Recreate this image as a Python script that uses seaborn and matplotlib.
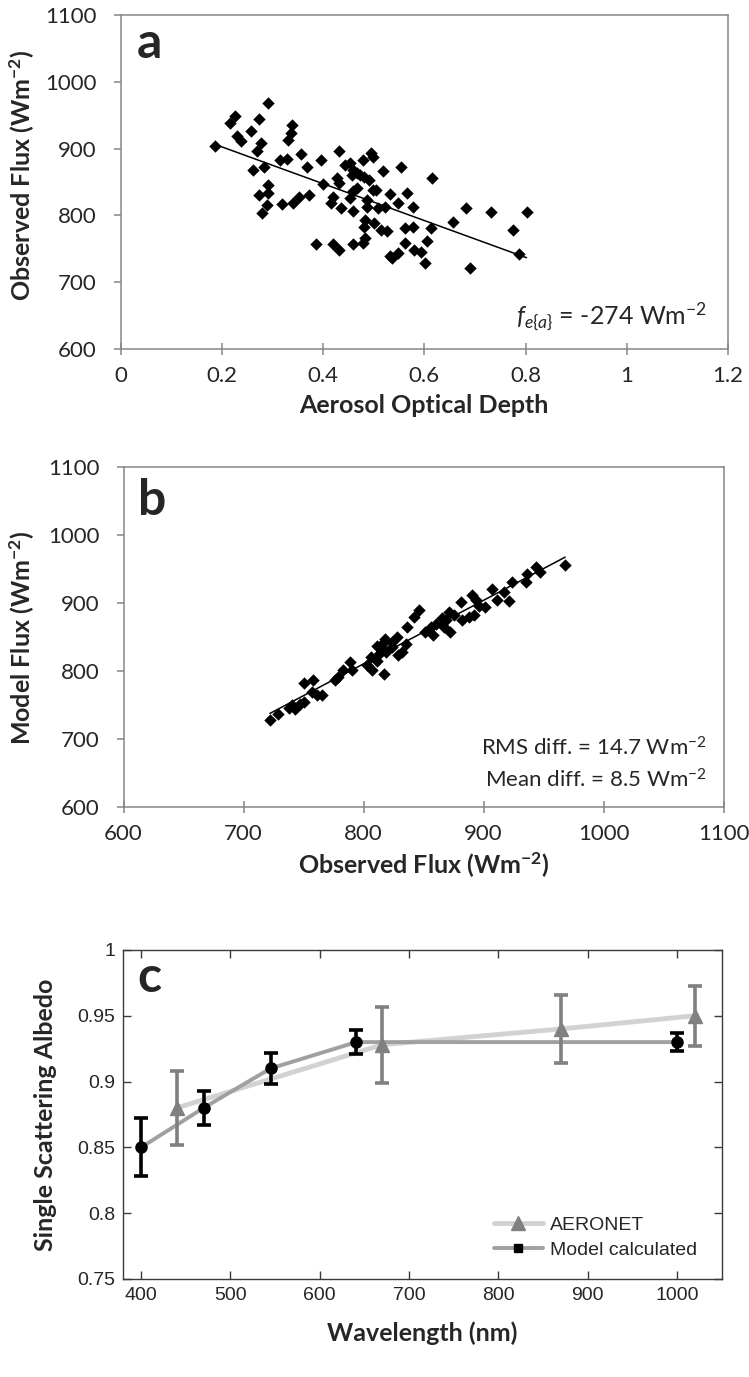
import matplotlib
matplotlib.use("Agg")
import matplotlib.pyplot as plt
import seaborn as sns
from matplotlib.lines import Line2D

# panel a: aerosol optical depth vs observed flux
aod = [0.291, 0.226, 0.216, 0.274, 0.258, 0.231, 0.238, 0.278, 0.270, 0.339,
       0.337, 0.330, 0.187, 0.357, 0.315, 0.328, 0.397, 0.431, 0.495, 0.498,
       0.478, 0.555, 0.519, 0.369, 0.262, 0.284, 0.443, 0.453, 0.460, 0.467,
       0.457, 0.473, 0.480, 0.490, 0.427, 0.431, 0.399, 0.615, 0.291, 0.291,
       0.273, 0.373, 0.352, 0.341, 0.318, 0.289, 0.280, 0.419, 0.416, 0.436,
       0.460, 0.453, 0.467, 0.460, 0.486, 0.486, 0.498, 0.505, 0.509, 0.522,
       0.532, 0.549, 0.565, 0.578, 0.483, 0.501, 0.480, 0.515, 0.526, 0.561,
       0.578, 0.613, 0.386, 0.419, 0.432, 0.459, 0.478, 0.482, 0.562, 0.605,
       0.549, 0.532, 0.537, 0.580, 0.594, 0.601,
       0.656, 0.682, 0.731, 0.802, 0.776, 0.787, 0.690]
obs_flux_a = [969, 949, 939, 945, 926, 919, 911, 908, 897, 936,
              923, 913, 904, 892, 883, 884, 883, 897, 893, 888,
              883, 873, 866, 872, 868, 873, 876, 878, 868, 863,
              861, 861, 858, 853, 856, 848, 847, 856, 846, 834,
              830, 831, 827, 819, 817, 815, 804, 827, 818, 811,
              806, 826, 841, 836, 823, 813, 838, 838, 811, 813,
              832, 819, 834, 813, 793, 788, 782, 778, 777, 781,
              782, 781, 758, 758, 749, 757, 759, 766, 759, 762,
              744, 740, 737, 749, 746, 729,
              790, 811, 805, 805, 778, 743, 722]

# panel b: observed vs model flux
obs_flux_b = [722, 729, 738, 740, 743, 747, 750, 750, 758, 757,
              761, 765, 776, 779, 783, 789, 790, 803, 806, 807,
              811, 817, 811, 815, 824, 832, 829, 835, 819, 813,
              968, 944, 947, 936, 935, 924, 917, 907, 911, 921,
              901, 894, 896, 890, 881, 892, 888, 882, 875, 871,
              869, 865, 872, 867, 860, 856, 851, 858, 846, 842,
              836, 828, 824, 818, 815]
model_flux_b = [728, 738, 747, 750, 745, 752, 755, 783, 788, 770,
                765, 765, 788, 792, 802, 814, 802, 809, 821, 802,
                816, 797, 838, 833, 836, 829, 824, 841, 829, 826,
                957, 954, 946, 944, 932, 932, 917, 922, 905, 903,
                895, 905, 897, 912, 902, 883, 880, 875, 883, 887,
                875, 878, 858, 865, 870, 865, 858, 853, 890, 880,
                865, 851, 843, 848, 841]

# panel c: single scattering albedo
wl_model = [400, 470, 545, 641, 1000]
ssa_model = [0.85, 0.88, 0.91, 0.93, 0.93]
err_model = [0.022, 0.013, 0.012, 0.009, 0.007]
wl_aeronet = [440, 670, 870, 1020]
ssa_aeronet = [0.88, 0.928, 0.94, 0.95]
err_aeronet = [0.028, 0.029, 0.026, 0.023]

aod_ticks = [0, 0.2, 0.4, 0.6, 0.8, 1.0, 1.2]
aod_ticklabels = ["0", "0.2", "0.4", "0.6", "0.8", "1", "1.2"]
flux_ticks = [600, 700, 800, 900, 1000, 1100]
wl_ticks = [400, 500, 600, 700, 800, 900, 1000]
ssa_ticks = [0.75, 0.8, 0.85, 0.9, 0.95, 1.0]
ssa_ticklabels = ["0.75", "0.8", "0.85", "0.9", "0.95", "1"]

sns.set_style("white")
plt.rcParams["font.family"] = ["Lato", "DejaVu Sans"]
plt.rcParams["mathtext.fontset"] = "custom"
plt.rcParams["mathtext.rm"] = "Lato"
plt.rcParams["mathtext.it"] = "Lato:italic"
plt.rcParams["mathtext.bf"] = "Lato:bold"

GREY = "#868686"
ARIAL = ["Liberation Sans", "DejaVu Sans"]

fig = plt.figure(figsize=(7.49, 13.77), dpi=100)
ax_a = fig.add_axes([0.1609, 0.7465, 0.8111, 0.2426])
ax_b = fig.add_axes([0.1649, 0.4136, 0.8011, 0.2469])
ax_c = fig.add_axes([0.1646, 0.0712, 0.7987, 0.2389])


def excel_style(ax):
    for s in ax.spines.values():
        s.set_visible(True)
        s.set_color(GREY)
        s.set_linewidth(1.1)
    ax.tick_params(axis="y", direction="out", length=5, width=1.1,
                   color=GREY, labelsize=16, pad=12, left=True)
    ax.tick_params(axis="x", direction="inout", length=8, width=1.1,
                   color=GREY, labelsize=16, pad=8, bottom=True)


# ---- panel a
sns.scatterplot(x=aod, y=obs_flux_a, ax=ax_a, marker="D", s=40,
                color="black", edgecolor="black", linewidth=0, zorder=3)
sns.regplot(x=aod, y=obs_flux_a, ax=ax_a, scatter=False, ci=None,
            color="black", line_kws={"lw": 1.1})
ax_a.set_xlim(0, 1.2)
ax_a.set_ylim(600, 1100)
ax_a.set_xticks(aod_ticks)
ax_a.set_xticklabels(aod_ticklabels)
ax_a.set_yticks(flux_ticks)
excel_style(ax_a)
ax_a.set_xlabel("Aerosol Optical Depth", fontsize=18, fontweight="bold")
ax_a.set_ylabel(r"Observed Flux (Wm$^{\mathbf{-2}}$)", fontsize=18,
                fontweight="bold")
ax_a.xaxis.set_label_coords(0.5, -0.135)
ax_a.yaxis.set_label_coords(-0.1375, 0.52)
ax_a.text(0.027, 0.871, "a", transform=ax_a.transAxes, fontsize=36,
          fontweight="bold", va="baseline")
ax_a.text(0.9655, 0.096, r"$f_{e\{a\}}$ = -274 Wm$^{-2}$",
          transform=ax_a.transAxes, fontsize=18, ha="right", va="center")

# ---- panel b
sns.scatterplot(x=obs_flux_b, y=model_flux_b, ax=ax_b, marker="D", s=40,
                color="black", edgecolor="black", linewidth=0, zorder=3)
sns.regplot(x=obs_flux_b, y=model_flux_b, ax=ax_b, scatter=False, ci=None,
            color="black", line_kws={"lw": 1.1})
ax_b.set_xlim(600, 1100)
ax_b.set_ylim(600, 1100)
ax_b.set_xticks(flux_ticks)
ax_b.set_yticks(flux_ticks)
excel_style(ax_b)
ax_b.set_xlabel(r"Observed Flux (Wm$^{\mathbf{-2}}$)", fontsize=18,
                fontweight="bold")
ax_b.set_ylabel(r"Model Flux (Wm$^{\mathbf{-2}}$)", fontsize=18,
                fontweight="bold")
ax_b.xaxis.set_label_coords(0.5, -0.125)
ax_b.yaxis.set_label_coords(-0.144, 0.5)
ax_b.text(0.024, 0.86, "b", transform=ax_b.transAxes, fontsize=36,
          fontweight="bold", va="baseline")
ax_b.text(0.9725, 0.175, r"RMS diff. = 14.7 Wm$^{-2}$",
          transform=ax_b.transAxes, fontsize=16, ha="right", va="center")
ax_b.text(0.9725, 0.081, r"Mean diff. = 8.5 Wm$^{-2}$",
          transform=ax_b.transAxes, fontsize=16, ha="right", va="center")

# ---- panel c
AER_LINE = "#d2d2d2"
MOD_LINE = "#a0a0a0"
AER_MARK = "#808080"
sns.lineplot(x=wl_aeronet, y=ssa_aeronet, ax=ax_c, color=AER_LINE, lw=3.5,
             sort=False, zorder=1)
sns.lineplot(x=wl_model, y=ssa_model, ax=ax_c, color=MOD_LINE, lw=2.8,
             sort=False, zorder=2)
ax_c.errorbar(wl_aeronet, ssa_aeronet, yerr=err_aeronet, fmt="^",
              color=AER_MARK, ms=10, elinewidth=2.6, capsize=5, capthick=2.6,
              zorder=3)
ax_c.errorbar(wl_model, ssa_model, yerr=err_model, fmt="o", color="black",
              ms=8, elinewidth=2.6, capsize=5, capthick=2.6, zorder=4)
ax_c.set_xlim(380, 1050)
ax_c.set_ylim(0.75, 1.0)
ax_c.set_xticks(wl_ticks)
ax_c.set_yticks(ssa_ticks)
ax_c.set_yticklabels(ssa_ticklabels)
for s in ax_c.spines.values():
    s.set_visible(True)
    s.set_color("#3a3a3a")
    s.set_linewidth(1.0)
ax_c.tick_params(direction="in", length=6, width=1.0, color="#3a3a3a",
                 top=True, right=True, bottom=True, left=True, labelsize=14,
                 pad=6)
for lab in ax_c.get_xticklabels() + ax_c.get_yticklabels():
    lab.set_family(ARIAL)
ax_c.set_xlabel("Wavelength (nm)", fontsize=18, fontweight="bold")
ax_c.set_ylabel("Single Scattering Albedo", fontsize=18, fontweight="bold")
ax_c.xaxis.set_label_coords(0.5, -0.13)
ax_c.yaxis.set_label_coords(-0.111, 0.5)
ax_c.text(0.023, 0.872, "c", transform=ax_c.transAxes, fontsize=36,
          fontweight="bold", va="baseline")

handles = [
    Line2D([], [], color=AER_LINE, lw=3.5, marker="^", ms=10,
           mfc=AER_MARK, mec=AER_MARK),
    Line2D([], [], color=MOD_LINE, lw=2.8, marker="s", ms=6,
           mfc="black", mec="black"),
]
ax_c.legend(handles, ["AERONET", "Model calculated"], loc="center left",
            bbox_to_anchor=(0.62, 0.126), frameon=False, borderaxespad=0,
            borderpad=0, handlelength=2.5, handletextpad=0.35,
            labelspacing=0.35, prop={"family": ARIAL, "size": 14})

fig.savefig("out.png", dpi=100)
